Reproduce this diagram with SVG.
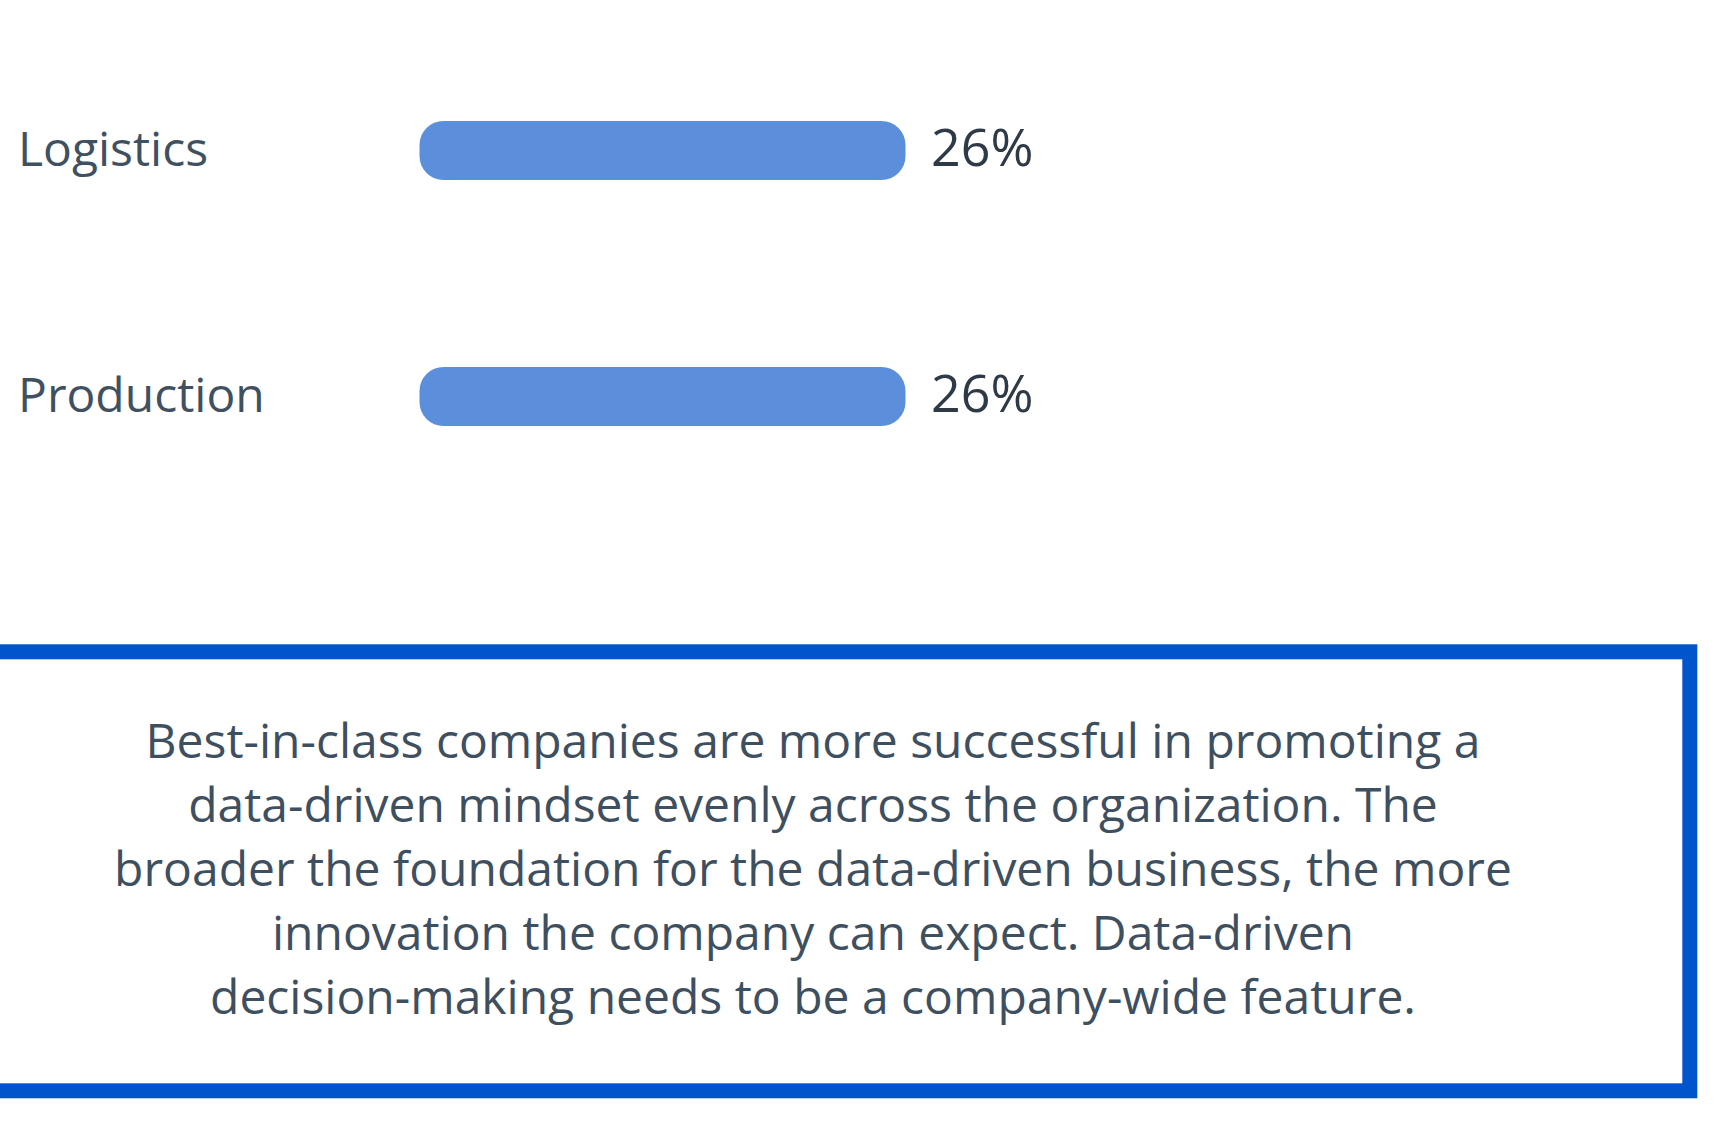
<svg xmlns="http://www.w3.org/2000/svg" width="1715" height="1126" viewBox="0 0 1715 1126">
<style>
.lbl{font-family:"Open Sans","Noto Sans","Liberation Sans",sans-serif;font-size:48px;fill:#3F5161}
.pct{font-family:"Open Sans","Noto Sans","Liberation Sans",sans-serif;font-size:52px;fill:#2E3A46}
.bar{fill:#5B8FDC}
.note{font-family:"Open Sans","Noto Sans","Liberation Sans",sans-serif;font-size:48px;fill:#3E4F5F;text-anchor:middle}
.box{fill:#FFFFFF;stroke:#0055CC;stroke-width:15}
</style>
<rect width="1715" height="1126" fill="#FFFFFF"/>
<g id="row-logistics">
<text class="lbl" x="18" y="165.7">Logistics</text>
<rect class="bar" x="419.5" y="121" width="486" height="59" rx="24" ry="24"/>
<text class="pct" x="931" y="165.7">26%</text>
</g>
<g id="row-production">
<text class="lbl" x="18" y="411.7">Production</text>
<rect class="bar" x="419.5" y="367" width="486" height="59" rx="24" ry="24"/>
<text class="pct" x="931" y="411.7">26%</text>
</g>
<g id="note">
<rect class="box" x="-20" y="651.8" width="1709.8" height="439"/>
<text class="note" x="813" y="757.7">Best-in-class companies are more successful in promoting a</text>
<text class="note" x="813" y="821.7">data-driven mindset evenly across the organization. The</text>
<text class="note" x="813" y="885.7">broader the foundation for the data-driven business, the more</text>
<text class="note" x="813" y="949.7">innovation the company can expect. Data-driven</text>
<text class="note" x="813" y="1013.7">decision-making needs to be a company-wide feature.</text>
</g>
</svg>
